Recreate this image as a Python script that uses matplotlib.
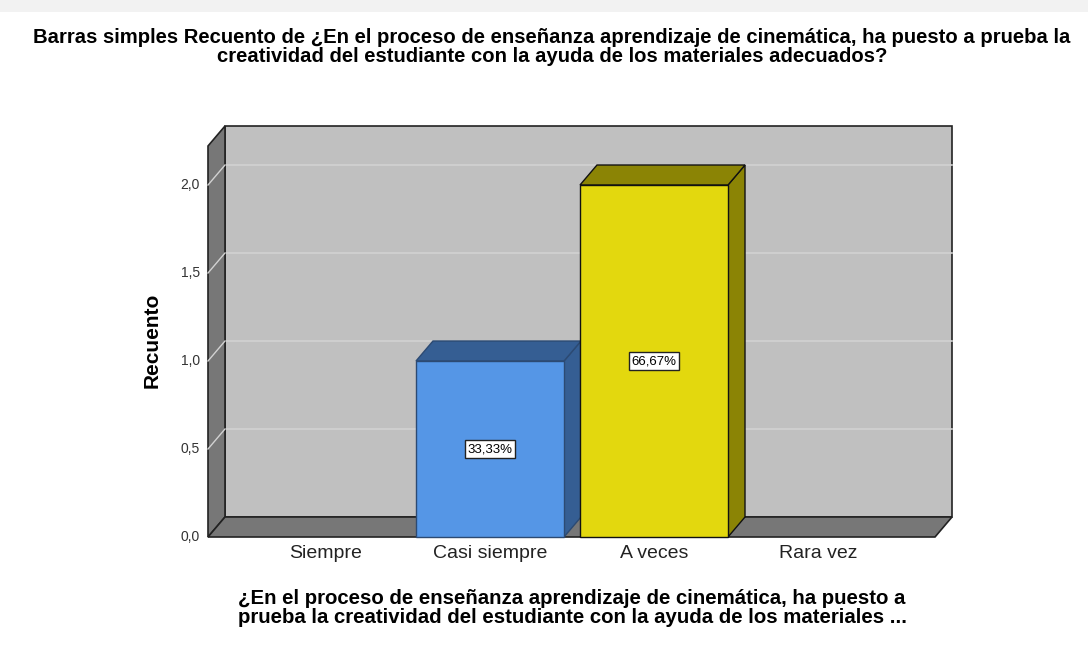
import matplotlib
matplotlib.use("Agg")
import matplotlib.pyplot as plt
from matplotlib.patches import Polygon, Rectangle

# ---- data ----
categories = ["Siempre", "Casi siempre", "A veces", "Rara vez"]
counts = [0, 1, 2, 0]
percent_labels = ["", "33,33%", "66,67%", ""]
yticks = [0.0, 0.5, 1.0, 1.5, 2.0]
ytick_labels = ["0,0", "0,5", "1,0", "1,5", "2,0"]
title = ("Barras simples Recuento de ¿En el proceso de enseñanza aprendizaje de cinemática, ha puesto a prueba la\n"
         "creatividad del estudiante con la ayuda de los materiales adecuados?")
xlabel = ("¿En el proceso de enseñanza aprendizaje de cinemática, ha puesto a\n"
          "prueba la creatividad del estudiante con la ayuda de los materiales ...")
ylabel = "Recuento"

# ---- style ----
front_colors = {1: "#5596e6", 2: "#e3d80e"}
dark_colors = {1: "#355e93", 2: "#8b8405"}
edge_colors = {1: "#2c4a73", 2: "#111111"}
wall_color = "#777777"
back_color = "#c0c0c0"
grid_color = "#d2d2d2"
font = "Liberation Sans"

W, H = 1088, 648
fig = plt.figure(figsize=(W / 100, H / 100), dpi=100)
fig.patch.set_facecolor("white")
# screenshot frame band at the top
fig.patches.append(Rectangle((0, 1 - 12 / H), 1, 12 / H, transform=fig.transFigure,
                             facecolor="#f2f2f2", edgecolor="none"))

# axes placement (pixels)
px_left, px_right, px_bottom, px_top = 208, 952, 537, 126
ax = fig.add_axes([px_left / W, (H - px_bottom) / H, (px_right - px_left) / W, (px_bottom - px_top) / H])
cat_px = 164.0
val_px = 176.0
x0 = -118.0 / cat_px
ax.set_xlim(x0, x0 + (px_right - px_left) / cat_px)
ax.set_ylim(0, (px_bottom - px_top) / val_px)
ax.axis("off")
ax.set_facecolor("none")

dx = 17.0 / cat_px   # depth offset in category units
dy = 20.0 / val_px   # depth offset in count units
xl, xr = x0, x0 + (935 - 208) / cat_px
ytop = (537 - 146) / val_px
lw = 1.2
ec = "#222222"

# back wall
ax.add_patch(Polygon([(xl + dx, dy), (xr + dx, dy), (xr + dx, ytop + dy), (xl + dx, ytop + dy)],
                     closed=True, facecolor=back_color, edgecolor=ec, lw=lw, zorder=1, clip_on=False))
for t in yticks[1:]:
    ax.plot([xl + dx, xr + dx], [t + dy, t + dy], color=grid_color, lw=1.2, zorder=2, clip_on=False)
# left wall
ax.add_patch(Polygon([(xl, 0), (xl + dx, dy), (xl + dx, ytop + dy), (xl, ytop)],
                     closed=True, facecolor=wall_color, edgecolor=ec, lw=lw, zorder=3, clip_on=False))
for t in yticks[1:]:
    ax.plot([xl, xl + dx], [t, t + dy], color=grid_color, lw=1.0, zorder=4, clip_on=False)
# floor
ax.add_patch(Polygon([(xl, 0), (xr, 0), (xr + dx, dy), (xl + dx, dy)],
                     closed=True, facecolor=wall_color, edgecolor=ec, lw=lw, zorder=3, clip_on=False))

# bars
half = 74.0 / cat_px
for i, (v, lab) in enumerate(zip(counts, percent_labels)):
    if v <= 0:
        continue
    a, b = i - half, i + half
    z = 5 + i
    ax.add_patch(Polygon([(b, 0), (b + dx, dy), (b + dx, v + dy), (b, v)], closed=True,
                         facecolor=dark_colors[i], edgecolor=edge_colors[i], lw=1.0, zorder=z, clip_on=False))
    ax.add_patch(Polygon([(a, v), (b, v), (b + dx, v + dy), (a + dx, v + dy)], closed=True,
                         facecolor=dark_colors[i], edgecolor=edge_colors[i], lw=1.0, zorder=z, clip_on=False))
    ax.add_patch(Rectangle((a, 0), b - a, v, facecolor=front_colors[i],
                           edgecolor=edge_colors[i], lw=1.0, zorder=z, clip_on=False))
    ax.text(i, v / 2, lab, ha="center", va="center", fontsize=9.5, family=font, zorder=20,
            bbox=dict(boxstyle="square,pad=0.22", facecolor="white", edgecolor="#222222", lw=1.0))

# tick labels
for t, s in zip(yticks, ytick_labels):
    ax.text(x0 - 8 / cat_px, t, s, ha="right", va="center", fontsize=10, family=font, color="#333333")
for i, c in enumerate(categories):
    ax.text(i, -17 / val_px, c, ha="center", va="center", fontsize=14, family=font, color="#222222")

fig.text(152 / W, 1 - 340 / H, ylabel, rotation=90, ha="center", va="center",
         fontsize=15, fontweight="bold", family=font)
fig.text(552 / W, 1 - 47 / H, title, ha="center", va="center", fontsize=14.6,
         fontweight="bold", family=font, linespacing=0.95)
fig.text(572 / W, 1 - 608 / H, xlabel, ha="center", va="center", fontsize=14.7,
         fontweight="bold", family=font, linespacing=1.05)

fig.savefig("out.png", dpi=100)
